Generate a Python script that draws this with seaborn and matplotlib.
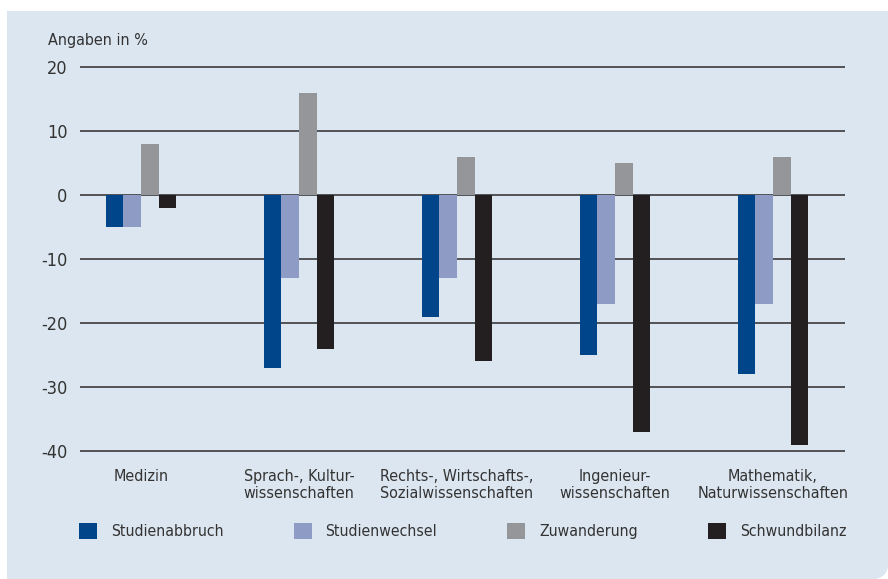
import numpy as np
import pandas as pd
import seaborn as sns
import matplotlib.pyplot as plt
from matplotlib import font_manager
from matplotlib.path import Path
from matplotlib.patches import PathPatch

# data
faecher = ["Medizin", "Sprach-, Kultur-\nwissenschaften", "Rechts-, Wirtschafts-,\nSozialwissenschaften",
           "Ingenieur-\nwissenschaften", "Mathematik,\nNaturwissenschaften"]
reihen = ["Studienabbruch", "Studienwechsel", "Zuwanderung", "Schwundbilanz"]
studienabbruch = [-5, -27, -19, -25, -28]
studienwechsel = [-5, -13, -13, -17, -17]
zuwanderung = [8, 16, 6, 5, 6]
schwundbilanz = [-2, -24, -26, -37, -39]
y_ticks = [-40, -30, -20, -10, 0, 10, 20]

farben = ["#00448a", "#8e9bc4", "#959699", "#231f20"]
panel_bg = "#dce6f0"

df = pd.DataFrame({
    "Fach": faecher * 4,
    "Reihe": np.repeat(reihen, len(faecher)),
    "Wert": studienabbruch + studienwechsel + zuwanderung + schwundbilanz,
})

sns.set_theme(style="white")
names = {f.name for f in font_manager.fontManager.ttflist}
if "Liberation Sans Narrow" in names:
    plt.rcParams["font.family"] = ["Liberation Sans Narrow", "DejaVu Sans"]
else:
    plt.rcParams["font.family"] = ["DejaVu Sans"]
    plt.rcParams["font.stretch"] = "condensed"
txt = "#333333"

fig = plt.figure(figsize=(8.88, 5.79), dpi=100, facecolor="white")

# panel with rounded bottom-right corner (pixel coords -> figure fraction)
W, H = 888.0, 579.0
x0, y0, x1, y1, r = 7, 11, 888, 579, 14
t = np.linspace(0, np.pi / 2, 20)
pts = [(x0, y0), (x1 + 5, y0), (x1, y0), (x1, y1 - r)]
pts += [(x1 - r + r * np.cos(a), y1 - r + r * np.sin(a)) for a in t]
pts += [(x0, y1 + 5), (x0, y0)]
pts = [(px / W, 1 - py / H) for px, py in pts]
fig.patches.append(PathPatch(Path(pts), transform=fig.transFigure, facecolor=panel_bg,
                             edgecolor="none", zorder=-1))

ax = fig.add_axes([80 / W, 1 - 457.4 / H, 765 / W, (457.4 - 60.6) / H])
ax.patch.set_alpha(0)

sns.barplot(data=df, x="Fach", y="Wert", hue="Reihe", hue_order=reihen, palette=farben,
            width=0.445, saturation=1, errorbar=None, ax=ax, zorder=3, linewidth=0)

ax.set_ylim(-41, 21)
ax.set_xlim(-0.386, 4.456)
ax.set_yticks(y_ticks)
ax.set_yticklabels([str(v) for v in y_ticks], fontsize=13, color=txt)
for v in y_ticks:
    ax.axhline(v, color="#3a3a3c", linewidth=1.2, zorder=2)
for s in ax.spines.values():
    s.set_visible(False)
ax.tick_params(axis="y", length=0, pad=9)
ax.tick_params(axis="x", length=0, pad=8, labelsize=11.5, labelcolor=txt)
ax.set_xlabel("")
ax.set_ylabel("")

fig.text(48 / W, 1 - 40 / H, "Angaben in %", fontsize=11.5, color=txt, va="center", ha="left")

handles, labels = ax.get_legend_handles_labels()
ax.get_legend().remove()
fs = 11.3
px_em = fs * 100 / 72
fig.legend(handles, labels, loc="center left", bbox_to_anchor=(79 / W, 1 - 531 / H), ncol=4,
           frameon=False, fontsize=fs, handlelength=18 / px_em, handleheight=18 / px_em,
           handletextpad=14 / px_em, columnspacing=70 / px_em, borderpad=0, borderaxespad=0,
           labelcolor=txt)

fig.savefig("out.png", dpi=100, facecolor="white")
